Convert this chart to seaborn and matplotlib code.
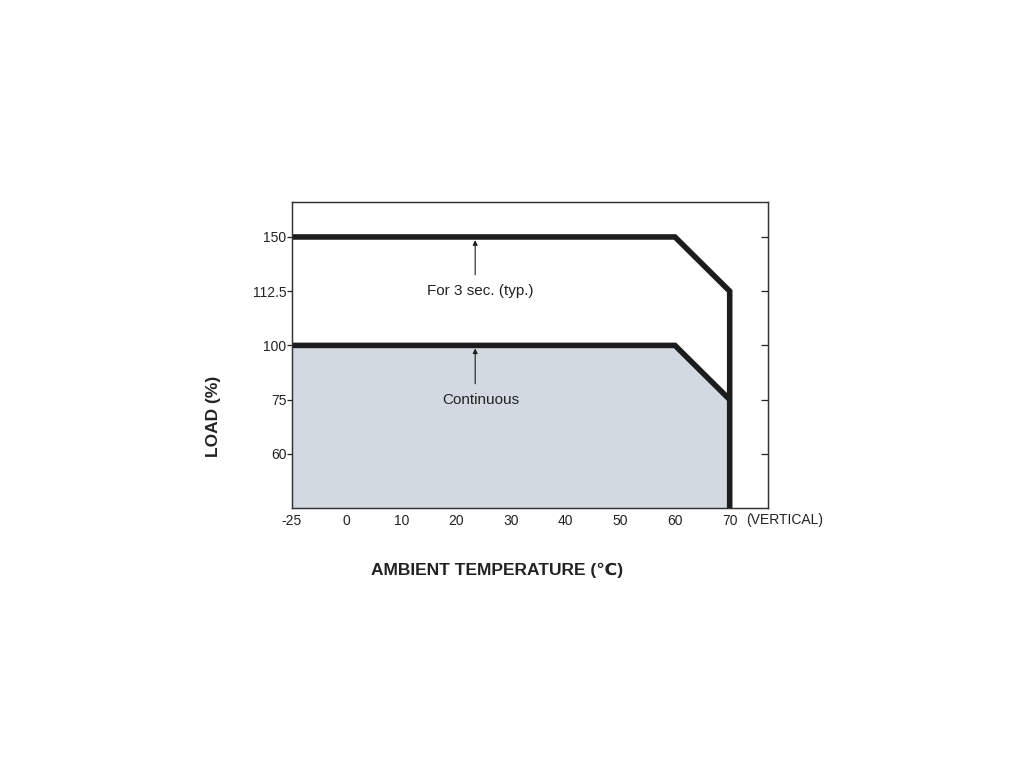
import matplotlib

matplotlib.use("Agg")

import matplotlib.pyplot as plt
import numpy as np
import pandas as pd
import seaborn as sns

# derating curve data
TEMPS = [-25, 60, 70]
LOAD_PEAK = [150, 150, 112.5]
LOAD_CONT = [100, 100, 75]

X_TICKS = [-25, 0, 10, 20, 30, 40, 50, 60, 70]
Y_TICKS = [60, 75, 100, 112.5, 150]
Y_TICK_LABELS = ["60", "75", "100", "112.5", "150"]

LINE_COLOR = "#1c1c1c"
FILL_COLOR = "#d3d9e0"

# the drawing uses evenly spaced ticks, so map values through piecewise scales
X_BREAKS = [-25, 0, 80]
X_POS = [-1, 0, 8]
Y_BREAKS = [45, 60, 75, 100, 112.5, 150, 187.5]
Y_POS = [-1, 0, 1, 2, 3, 4, 5]


def x_fwd(v):
    return np.interp(v, X_BREAKS, X_POS)


def x_inv(p):
    return np.interp(p, X_POS, X_BREAKS)


def y_fwd(v):
    return np.interp(v, Y_BREAKS, Y_POS)


def y_inv(p):
    return np.interp(p, Y_POS, Y_BREAKS)


sns.set_style("white")
plt.rcParams["font.family"] = ["Liberation Sans", "DejaVu Sans"]

fig = plt.figure(figsize=(10.24, 7.68), dpi=100)
ax = fig.add_axes([0.285, 0.3385, 0.465, 0.3985])

ax.set_xscale("function", functions=(x_fwd, x_inv))
ax.set_yscale("function", functions=(y_fwd, y_inv))
ax.set_xlim(-25, 77)
ax.set_ylim(45, 174.2)
y_bottom = ax.get_ylim()[0]

cont_df = pd.DataFrame({"temp": TEMPS, "load": LOAD_CONT})
peak_df = pd.DataFrame(
    {"temp": TEMPS + [TEMPS[-1]], "load": LOAD_PEAK + [y_bottom]}
)

ax.fill_between(cont_df["temp"], cont_df["load"], y_bottom, color=FILL_COLOR, lw=0)
for df in (cont_df, peak_df):
    sns.lineplot(data=df, x="temp", y="load", sort=False, estimator=None,
                 errorbar=None, color=LINE_COLOR, lw=4, ax=ax,
                 solid_joinstyle="miter", solid_capstyle="butt")

arrow = dict(arrowstyle="-|>", lw=0.8, color=LINE_COLOR, mutation_scale=7,
             shrinkA=0, shrinkB=0)
ax.annotate("", xy=(23.5, 147.8), xytext=(23.5, 123.8), arrowprops=arrow)
ax.annotate("", xy=(23.5, 98.6), xytext=(23.5, 82.3), arrowprops=arrow)
ax.text(24.5, 112.5, "For 3 sec. (typ.)", ha="center", va="center",
        fontsize=11, color="#222222")
ax.text(24.5, 75, "Continuous", ha="center", va="center",
        fontsize=11, color="#222222")

ax.set_xticks(X_TICKS)
ax.set_xticklabels([str(t) for t in X_TICKS])
ax.set_yticks(Y_TICKS)
ax.set_yticklabels(Y_TICK_LABELS)
ax.minorticks_off()
ax.tick_params(axis="x", direction="in", length=4.5, width=0.9, pad=4,
               labelsize=10, colors="#222222")
ax.tick_params(axis="y", direction="out", length=3.5, width=0.9, pad=0.5,
               labelsize=10, colors="#222222")

# right-hand ticks point inward, without labels
ax2 = ax.twinx()
ax2.set_yscale("function", functions=(y_fwd, y_inv))
ax2.set_ylim(ax.get_ylim())
ax2.set_yticks(Y_TICKS)
ax2.minorticks_off()
ax2.tick_params(axis="y", direction="in", length=5, width=0.9, labelright=False,
                colors="#222222")

for a in (ax, ax2):
    for side in a.spines.values():
        side.set_visible(True)
        side.set_linewidth(0.9)
        side.set_color("#333333")

ax.text(0.954, -0.04, "(VERTICAL)", transform=ax.transAxes, ha="left",
        va="center", fontsize=10, color="#222222")

ax.set_xlabel("AMBIENT TEMPERATURE (\u2103)", fontsize=12.5, fontweight="bold",
              color="#222222")
ax.xaxis.set_label_coords(0.43, -0.18)
ax.set_ylabel("LOAD (%)", fontsize=12.5, fontweight="bold", color="#222222")
ax.yaxis.set_label_coords(-0.149, 0.30)

fig.savefig("out.png", dpi=100)
plt.close(fig)
